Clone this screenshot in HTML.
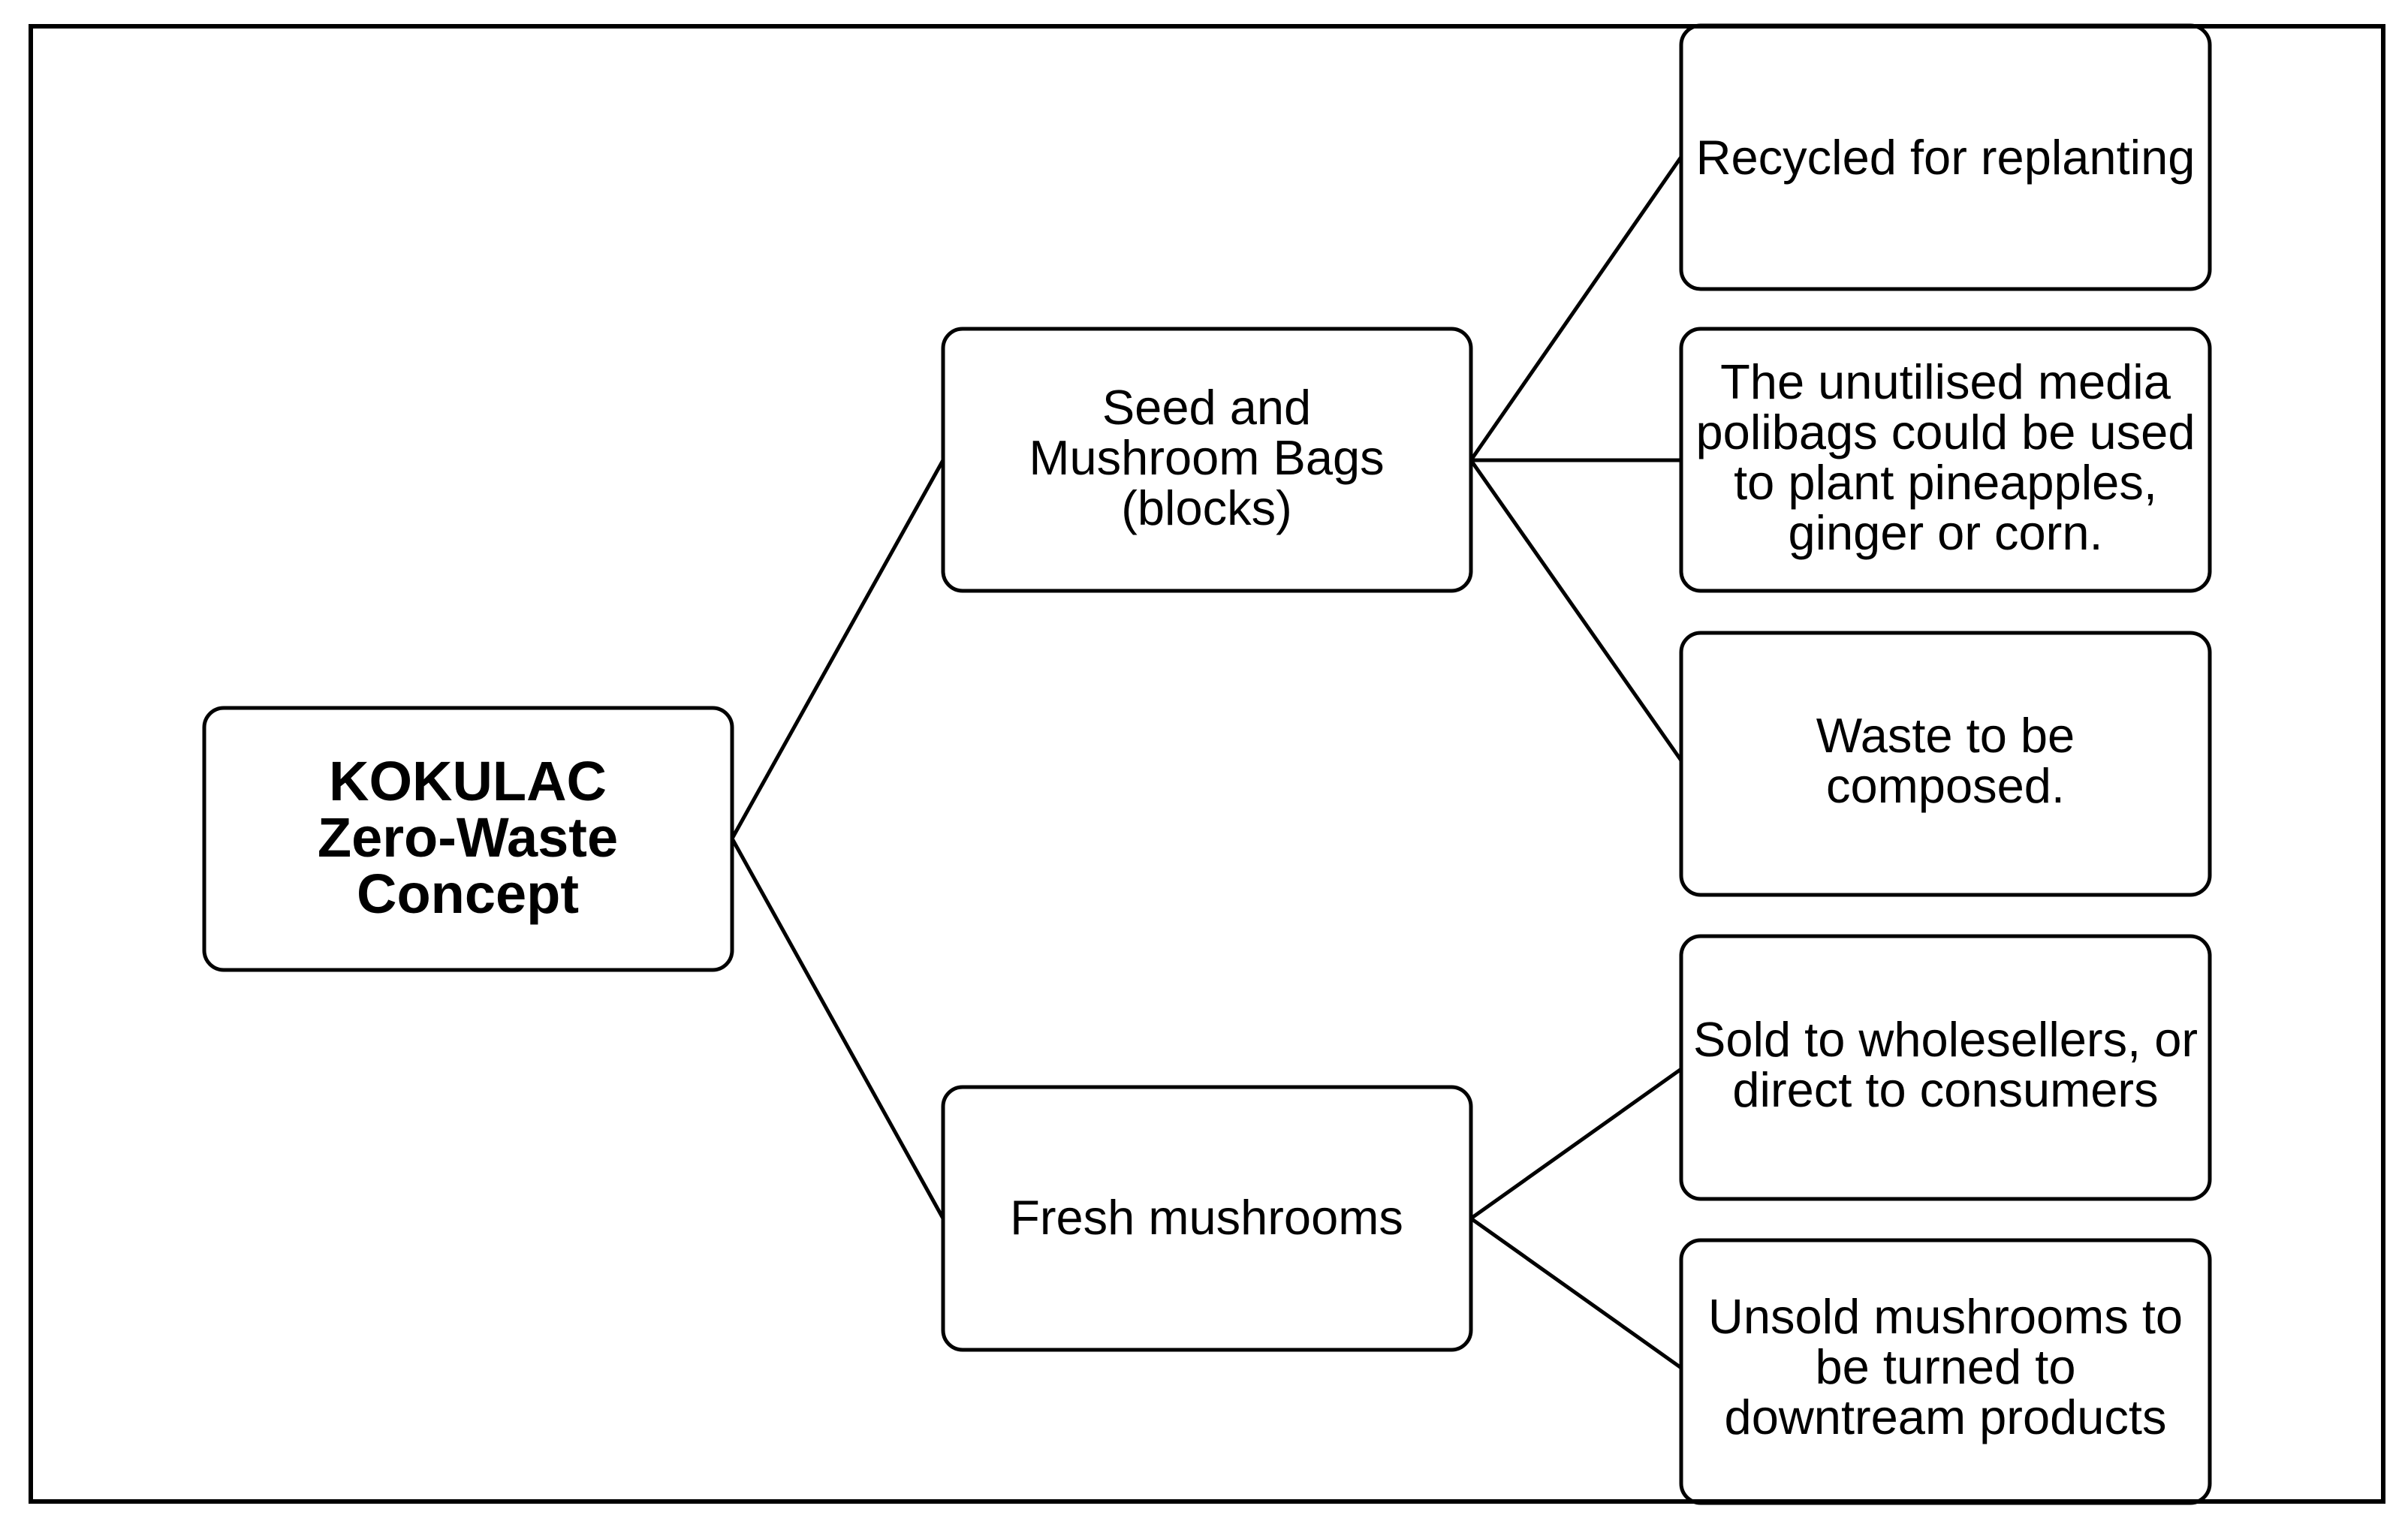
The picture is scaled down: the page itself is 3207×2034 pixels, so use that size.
<!DOCTYPE html>
<html><head><meta charset="utf-8"><style>
html,body{margin:0;padding:0;background:#fff;}
svg{display:block;}
text{font-family:"Liberation Sans",Arial,sans-serif;font-size:65px;fill:#000;text-anchor:middle;}
.b{font-weight:bold;font-size:74px;}
</style></head><body>
<svg width="3207" height="2034" viewBox="0 0 3207 2034" xmlns="http://www.w3.org/2000/svg">
<rect x="0" y="0" width="3207" height="2034" fill="#fff"/>
<g stroke="#000" stroke-width="5" fill="none">
<line x1="975" y1="1117" x2="1256" y2="613"/>
<line x1="975" y1="1117" x2="1256" y2="1623"/>
<line x1="1959" y1="613" x2="2239" y2="209"/>
<line x1="1959" y1="613" x2="2239" y2="613"/>
<line x1="1959" y1="613" x2="2239" y2="1013"/>
<line x1="1959" y1="1623" x2="2239" y2="1424"/>
<line x1="1959" y1="1623" x2="2239" y2="1822"/>
</g>
<g stroke="#000" stroke-width="5" fill="#fff">
<rect x="272" y="943" width="703" height="349" rx="26"/>
<rect x="1256" y="438" width="703" height="349" rx="26"/>
<rect x="1256" y="1448" width="703" height="350" rx="26"/>
<rect x="2239" y="34" width="704" height="351" rx="26"/>
<rect x="2239" y="438" width="704" height="349" rx="26"/>
<rect x="2239" y="843" width="704" height="349" rx="26"/>
<rect x="2239" y="1247" width="704" height="350" rx="26"/>
<rect x="2239" y="1652" width="704" height="350" rx="26"/>
</g>
<rect x="41" y="35" width="3133" height="1965" fill="none" stroke="#000" stroke-width="6"/>
<text class="b" x="623" y="1066">KOKULAC</text>
<text class="b" x="623" y="1141">Zero-Waste</text>
<text class="b" x="623" y="1216">Concept</text>
<text x="1607" y="565">Seed and</text>
<text x="1607" y="632">Mushroom Bags</text>
<text x="1607" y="699">(blocks)</text>
<text x="1607" y="1644">Fresh mushrooms</text>
<text x="2591" y="232">Recycled for replanting</text>
<text x="2591" y="531">The unutilised media</text>
<text x="2591" y="598">polibags could be used</text>
<text x="2591" y="665">to plant pineapples,</text>
<text x="2591" y="732">ginger or corn.</text>
<text x="2591" y="1002">Waste to be</text>
<text x="2591" y="1069">composed.</text>
<text x="2591" y="1407">Sold to wholesellers, or</text>
<text x="2591" y="1474">direct to consumers</text>
<text x="2591" y="1776">Unsold mushrooms to</text>
<text x="2591" y="1843">be turned to</text>
<text x="2591" y="1910">downtream products</text>
</svg>
</body></html>
